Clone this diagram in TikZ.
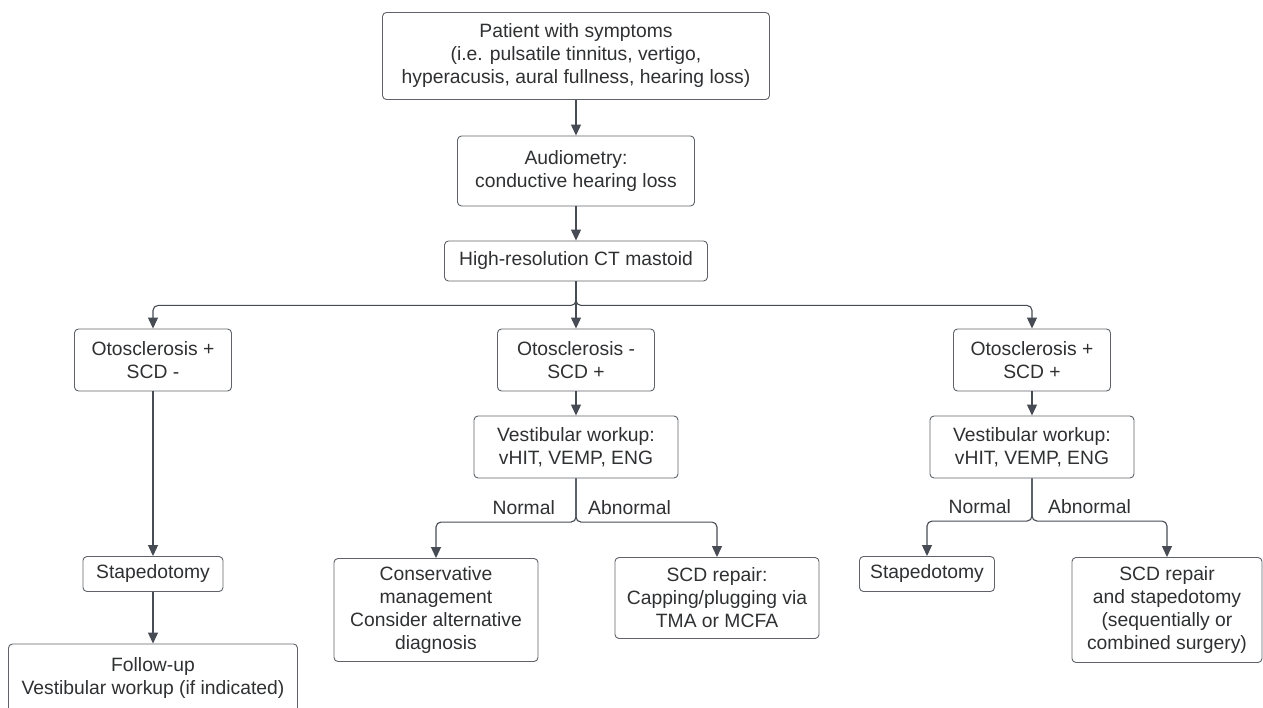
\documentclass[tikz,border=0pt]{standalone}
\usepackage{fontspec}
\setmainfont{Liberation Sans}
\usepackage{tikz}
\usetikzlibrary{positioning,calc,arrows.meta}

\definecolor{linegray}{HTML}{474B53}
\definecolor{boxgray}{HTML}{5F6268}
\definecolor{textgray}{HTML}{2F3032}

\tikzset{
  box/.style={draw=boxgray, line width=0.9pt, rounded corners=4pt, align=center,
    inner sep=3pt, text=textgray, font=\fontsize{19.3}{23}\selectfont},
  flow/.style={draw=linegray, line width=1.1pt, rounded corners=5pt,
    -{Triangle[length=11pt,width=10pt]}},
  lbl/.style={text=textgray, font=\fontsize{19.3}{23}\selectfont, inner sep=0pt}
}

\begin{document}
\begin{tikzpicture}[node distance=2cm,on grid]
		      \useasboundingbox (-576pt,56pt) rectangle (687pt,-652pt);
		      \node[box,minimum width=387pt,minimum height=87pt] (top) {Patient with symptoms\\(i.e. pulsatile tinnitus, vertigo,\\hyperacusis, aural fullness, hearing loss)};
		      \node[box,minimum width=237pt,minimum height=70pt] (audio) [below=115pt of top] {Audiometry:\\conductive hearing loss};
		      \node[box,minimum width=263pt,minimum height=40pt] (ct) [below=90pt of audio] {High-resolution CT mastoid};

		      \node[box,minimum width=157pt,minimum height=62pt] (osB) [below=99pt of ct] {Otosclerosis -\\SCD +};
		      \node[box,minimum width=157pt,minimum height=62pt] (osA) [left=423pt of osB] {Otosclerosis +\\SCD -};
		      \node[box,minimum width=157pt,minimum height=62pt] (osC) [right=456pt of osB] {Otosclerosis +\\SCD +};

		      \node[box,minimum width=140pt,minimum height=35pt] (stapA) [below=214pt of osA] {Stapedotomy};
		      \node[box,minimum width=289pt,minimum height=68pt] (follow) [below=104pt of stapA] {Follow-up\\Vestibular workup (if indicated)};

		      \node[box,minimum width=204pt,minimum height=62pt] (vestB) [below=87pt of osB] {Vestibular workup:\\vHIT, VEMP, ENG};
		      \node[box,minimum width=204pt,minimum height=103pt] (consv) [below left=163pt and 140pt of vestB] {Conservative\\management\\Consider alternative\\diagnosis};
		      \node[box,minimum width=204pt,minimum height=81pt] (repair) [below right=151pt and 141pt of vestB] {SCD repair:\\Capping/plugging via\\TMA or MCFA};

		      \node[box,minimum width=204pt,minimum height=62pt] (vestC) [below=87pt of osC] {Vestibular workup:\\vHIT, VEMP, ENG};
		      \node[box,minimum width=135pt,minimum height=35pt] (stapC) [below left=127pt and 105pt of vestC] {Stapedotomy};
		      \node[box,minimum width=190pt,minimum height=105pt] (combo) [below right=163pt and 135pt of vestC] {SCD repair\\and stapedotomy\\(sequentially or\\combined surgery)};

		      % split points
		      \coordinate (ctsplit) at ($(ct.south)+(0,-24pt)$);
		      \coordinate (splitB) at ($(vestB.south |- consv.north)+(0,36pt)$);
		      \coordinate (splitC) at ($(vestC.south |- stapC.north)+(0,35pt)$);

		      \node[lbl,anchor=base east] (normB) at ($(splitB)+(-21pt,8pt)$) {Normal};
		      \node[lbl,anchor=base west] (abnB) at ($(splitB)+(12pt,8pt)$) {Abnormal};
		      \node[lbl,anchor=base east] (normC) at ($(splitC)+(-21pt,8pt)$) {Normal};
		      \node[lbl,anchor=base west] (abnC) at ($(splitC)+(16pt,8pt)$) {Abnormal};

		      \draw[flow] (top) -- (audio);
		      \draw[flow] (audio) -- (ct);
		      \draw[flow] (ct.south) -- (ctsplit) -| (osA.north);
		      \draw[flow] (ct.south) -- (ctsplit) -| (osC.north);
		      \draw[flow] (ct) -- (osB);
		      \draw[flow] (osA) -- (stapA);
		      \draw[flow] (stapA) -- (follow);
		      \draw[flow] (osB) -- (vestB);
		      \draw[flow] (vestB.south) -- (splitB) -| (consv.north);
		      \draw[flow] (vestB.south) -- (splitB) -| (repair.north);
		      \draw[flow] (osC) -- (vestC);
		      \draw[flow] (vestC.south) -- (splitC) -| (stapC.north);
		      \draw[flow] (vestC.south) -- (splitC) -| (combo.north);
		    \end{tikzpicture}
\end{document}
